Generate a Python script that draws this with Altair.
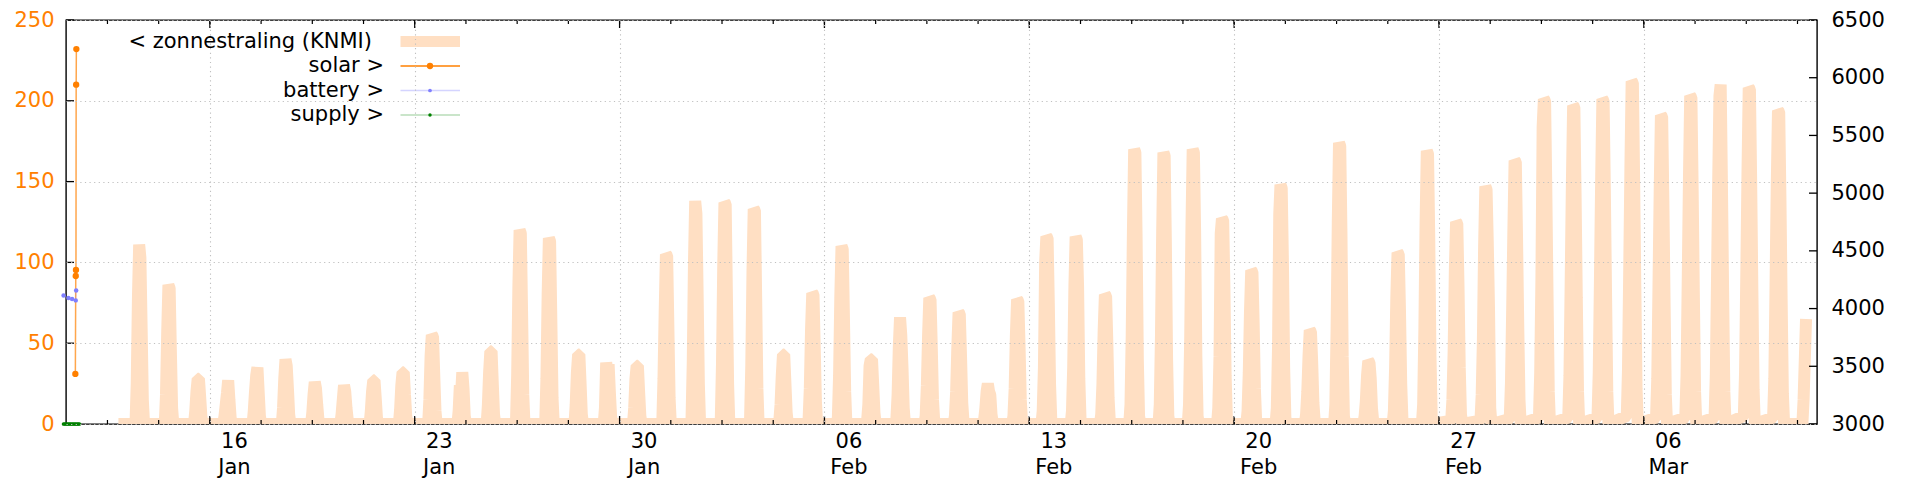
import altair as alt
import pandas as pd

# ---------------- data ----------------
# hourly KNMI global radiation (left axis), one list per day, hours below
rad_start = "2023-01-12T21:00:00"
rad_first_day = "2023-01-13"
rad_hours = [10, 11, 12, 13, 14, 15, 16, 17, 18, 19]
rad_daily = [
    [0, 0, 25, 78, 111, 103, 60, 15, 0, 0],     # Jan 13
    [0, 0, 18, 57, 86, 84, 45, 10, 0, 0],       # Jan 14
    [0, 0, 8, 20, 28, 28, 17, 5, 0, 0],         # Jan 15
    [0, 0, 5, 12, 19, 27, 15, 4, 0, 0],         # Jan 16
    [0, 0, 8, 20, 30, 35, 20, 5, 0, 0],         # Jan 17
    [0, 0, 10, 28, 40, 36, 22, 6, 0, 0],        # Jan 18
    [0, 0, 7, 18, 26, 22, 12, 3, 0, 0],         # Jan 19
    [0, 0, 6, 15, 24, 20, 10, 3, 0, 0],         # Jan 20
    [0, 0, 8, 20, 27, 27, 16, 4, 0, 0],         # Jan 21
    [0, 0, 9, 24, 32, 32, 18, 5, 0, 0],         # Jan 22
    [0, 0, 15, 42, 55, 54, 30, 8, 0, 0],        # Jan 23
    [0, 0, 8, 24, 18, 32, 22, 5, 0, 0],         # Jan 24
    [0, 0, 12, 32, 45, 45, 25, 6, 0, 0],        # Jan 25
    [0, 0, 30, 85, 120, 118, 70, 18, 0, 0],     # Jan 26
    [0, 0, 28, 80, 115, 113, 65, 16, 0, 0],     # Jan 27
    [0, 0, 12, 32, 43, 43, 25, 6, 0, 0],        # Jan 28
    [0, 0, 10, 38, 32, 37, 20, 5, 0, 0],        # Jan 29
    [0, 0, 10, 28, 36, 36, 20, 5, 0, 0],        # Jan 30
    [0, 0, 28, 70, 105, 104, 60, 16, 0, 0],     # Jan 31
    [0, 3, 38, 100, 138, 130, 80, 25, 0, 0],    # Feb 1
    [0, 3, 38, 98, 137, 136, 80, 24, 0, 0],     # Feb 2
    [0, 3, 36, 95, 133, 132, 78, 22, 0, 0],     # Feb 3
    [0, 2, 12, 30, 43, 43, 25, 7, 0, 0],        # Feb 4
    [0, 3, 22, 58, 81, 80, 48, 14, 0, 0],       # Feb 5
    [0, 4, 30, 78, 110, 108, 65, 20, 0, 0],     # Feb 6
    [0, 2, 12, 36, 40, 40, 24, 7, 0, 0],        # Feb 7
    [0, 3, 18, 48, 66, 55, 35, 10, 0, 0],       # Feb 8
    [0, 5, 24, 55, 78, 77, 48, 15, 2, 0],       # Feb 9
    [0, 5, 20, 48, 69, 68, 42, 13, 2, 0],       # Feb 10
    [0, 3, 10, 20, 25, 20, 18, 6, 1, 0],        # Feb 11
    [0, 5, 22, 55, 77, 76, 48, 15, 2, 0],       # Feb 12
    [0, 8, 35, 100, 116, 115, 75, 25, 3, 0],    # Feb 13
    [0, 8, 35, 85, 116, 114, 85, 28, 3, 0],     # Feb 14
    [0, 6, 25, 58, 80, 79, 50, 16, 2, 0],       # Feb 15
    [0, 12, 55, 120, 170, 168, 115, 40, 5, 0],  # Feb 16
    [0, 12, 55, 120, 168, 166, 112, 40, 5, 0],  # Feb 17
    [0, 12, 55, 122, 170, 168, 118, 42, 5, 0],  # Feb 18
    [0, 10, 42, 118, 127, 126, 85, 30, 4, 0],   # Feb 19
    [0, 8, 32, 70, 95, 94, 62, 22, 3, 0],       # Feb 20
    [0, 10, 48, 130, 148, 146, 100, 35, 4, 0],  # Feb 21
    [0, 6, 20, 42, 58, 57, 38, 13, 2, 0],       # Feb 22
    [0, 12, 58, 125, 174, 172, 118, 42, 5, 0],  # Feb 23
    [0, 5, 14, 30, 39, 38, 28, 10, 2, 0],       # Feb 24
    [0, 8, 35, 78, 106, 105, 70, 25, 3, 0],     # Feb 25
    [0, 12, 58, 125, 169, 167, 115, 42, 5, 0],  # Feb 26
    [2, 15, 45, 95, 125, 124, 85, 35, 6, 0],    # Feb 27
    [2, 18, 52, 110, 147, 145, 112, 72, 10, 0], # Feb 28
    [3, 25, 70, 120, 163, 162, 115, 60, 15, 0], # Mar 1
    [4, 32, 90, 184, 201, 200, 145, 80, 20, 0], # Mar 2
    [4, 30, 88, 150, 197, 196, 142, 78, 20, 0], # Mar 3
    [4, 32, 90, 152, 201, 200, 145, 80, 20, 0], # Mar 4
    [5, 34, 95, 160, 212, 211, 152, 85, 22, 0], # Mar 5
    [4, 28, 85, 145, 191, 190, 138, 75, 18, 0], # Mar 6
    [4, 30, 90, 152, 203, 202, 146, 80, 20, 0], # Mar 7
    [4, 30, 90, 152, 203, 210, 150, 82, 20, 0], # Mar 8
    [5, 32, 92, 156, 208, 207, 150, 82, 21, 0], # Mar 9
    [4, 28, 86, 148, 194, 193, 140, 76, 19, 0], # Mar 10
    [0, 15, 40, 65],                            # Mar 11 (data ends)
]

# meter series (right axis)
solar_times = ["2023-01-11T09:40:00", "2023-01-11T10:00:00", "2023-01-11T10:10:00",
               "2023-01-11T10:20:00", "2023-01-11T10:30:00"]
solar_values = [3434, 4282, 4334, 5940, 6248]

battery_times = ["2023-01-11T00:00:00", "2023-01-11T04:00:00", "2023-01-11T07:00:00",
                 "2023-01-11T10:00:00", "2023-01-11T10:20:00"]
battery_values = [4113, 4092, 4082, 4071, 4156]

supply_times = ["2023-01-11T00:00:00", "2023-01-11T01:00:00", "2023-01-11T02:00:00",
                "2023-01-11T03:00:00", "2023-01-11T04:00:00", "2023-01-11T05:00:00",
                "2023-01-11T06:00:00", "2023-01-11T07:00:00", "2023-01-11T08:00:00",
                "2023-01-11T09:00:00", "2023-01-11T10:00:00", "2023-01-11T11:00:00",
                "2023-01-11T12:00:00", "2023-01-11T13:00:00"]
supply_values = [3000] * 14

# axes
week_ticks = ["2023-01-16", "2023-01-23", "2023-01-30", "2023-02-06",
              "2023-02-13", "2023-02-20", "2023-02-27", "2023-03-06"]
left_ticks = [0, 50, 100, 150, 200, 250]
right_ticks = [3000, 3500, 4000, 4500, 5000, 5500, 6000, 6500]
legend_labels = ["< zonnestraling (KNMI)", "solar >", "battery >", "supply >"]

# ---------------- styling ----------------
W, H = 1751, 404
PEACH = "#ffdfc3"
ORANGE = "#ff8000"
PURPLE = "#8080ff"
GREEN = "#008000"
FONT = "DejaVu Sans"
FS = 21
GRID = "#c0c0c0"

# ---------------- frames ----------------
rows = [(rad_start, 0)]
for i, vals in enumerate(rad_daily):
    day = pd.Timestamp(rad_first_day) + pd.Timedelta(days=i)
    for h, v in zip(rad_hours, vals):
        rows.append(((day + pd.Timedelta(hours=h)).strftime("%Y-%m-%dT%H:%M:%S"), v))
rad_df = pd.DataFrame(rows, columns=["t", "v"])

solar_df = pd.DataFrame({"t": solar_times, "v": solar_values})
battery_df = pd.DataFrame({"t": battery_times, "v": battery_values})
supply_df = pd.DataFrame({"t": supply_times, "v": supply_values})

week_df = pd.DataFrame({"t": [w + "T00:00:00" for w in week_ticks]})
minor_df = pd.DataFrame({"t": [d.strftime("%Y-%m-%dT%H:%M:%S") for d in
                               pd.date_range("2023-01-12 12:00", "2023-03-11 22:00", freq="42h")]})
left_tick_df = pd.DataFrame({"v": left_ticks})
right_tick_df = pd.DataFrame({"v": right_ticks})


def dt(s, h=0):
    ts = pd.Timestamp(s)
    return alt.DateTime(year=ts.year, month=ts.month, date=ts.day, hours=h)


x_scale = alt.Scale(domain=[dt("2023-01-11", 2), dt("2023-03-11", 22)])
x_axis = alt.Axis(
    values=[dt(w) for w in week_ticks],
    labelExpr="[timeFormat(datum.value, '%d'), timeFormat(datum.value, '%b')]",
    grid=True, gridColor=GRID, gridDash=[1.2, 3.4], gridWidth=1.1,
    ticks=False, domain=False, labelFontSize=FS, labelLineHeight=26,
    labelPadding=6, labelOffset=24, labelColor="black", labelOverlap=False,
    labelFlush=False, title=None, zindex=1,
)
X = alt.X("t:T", scale=x_scale, axis=x_axis)

left_scale = alt.Scale(domain=[0, 250], nice=False, zero=False)
left_axis = alt.Axis(
    values=left_ticks, orient="left", grid=True, gridColor=GRID, gridDash=[1.2, 3.4],
    gridWidth=1.1, ticks=False, domain=False, labelFontSize=FS, labelColor=ORANGE,
    labelPadding=12, title=None, zindex=1,
)
YL = alt.Y("v:Q", scale=left_scale, axis=left_axis)

right_scale = alt.Scale(domain=[3000, 6500], nice=False, zero=False)
right_axis = alt.Axis(
    values=right_ticks, orient="right", grid=False, ticks=False, domain=False,
    labelFontSize=FS, labelColor="black", labelPadding=14, title=None, format="d",
)
YR = alt.Y("v:Q", scale=right_scale, axis=right_axis)

# ---------------- left group ----------------
rad_line = alt.Chart(rad_df).mark_line(
    color=PEACH, strokeWidth=12, strokeJoin="bevel", strokeCap="butt", clip=True
).encode(x=X, y=YL)

left_tick_rules = alt.Chart(left_tick_df).mark_rule(color="black", strokeWidth=1.3).encode(
    y=YL, x=alt.value(0), x2=alt.value(8))

top_major = alt.Chart(week_df).mark_rule(color="black", strokeWidth=1.3).encode(
    x=X, y=alt.value(0), y2=alt.value(8))
bottom_major = alt.Chart(week_df).mark_rule(color="black", strokeWidth=1.3).encode(
    x=X, y=alt.value(H - 8), y2=alt.value(H))
top_minor = alt.Chart(minor_df).mark_rule(color="black", strokeWidth=1.2).encode(
    x=X, y=alt.value(0), y2=alt.value(4))
bottom_minor = alt.Chart(minor_df).mark_rule(color="black", strokeWidth=1.2).encode(
    x=X, y=alt.value(H - 4), y2=alt.value(H))

left_group = alt.layer(rad_line, left_tick_rules, top_major, bottom_major, top_minor, bottom_minor)

# ---------------- right group ----------------
solar_line = alt.Chart(solar_df).mark_line(color=ORANGE, strokeWidth=1.5, opacity=0.7).encode(x=X, y=YR)
solar_pts = alt.Chart(solar_df).mark_point(filled=True, color=ORANGE, size=40, opacity=1).encode(x=X, y=YR)
battery_line = alt.Chart(battery_df).mark_line(color=PURPLE, strokeWidth=1, opacity=0.25).encode(x=X, y=YR)
battery_pts = alt.Chart(battery_df).mark_point(filled=True, color=PURPLE, size=20, opacity=1).encode(x=X, y=YR)
supply_line = alt.Chart(supply_df).mark_line(color=GREEN, strokeWidth=1, opacity=0.3).encode(x=X, y=YR)
supply_pts = alt.Chart(supply_df).mark_point(filled=True, color=GREEN, size=14, opacity=1).encode(x=X, y=YR)
right_tick_rules = alt.Chart(right_tick_df).mark_rule(color="black", strokeWidth=1.3).encode(
    y=YR, x=alt.value(W - 8), x2=alt.value(W))

right_group = alt.layer(solar_line, solar_pts, battery_line, battery_pts,
                        supply_line, supply_pts, right_tick_rules)

# ---------------- key (gnuplot style, top left) ----------------
key_y = [21.5, 46, 70.5, 95]
key_text_x = [306, 318, 318, 318]
key_layers = []
for i, lab in enumerate(legend_labels):
    key_layers.append(
        alt.Chart(pd.DataFrame({"label": [lab]})).mark_text(
            align="right", baseline="middle", fontSize=FS, font=FONT, color="black"
        ).encode(text="label:N", x=alt.value(key_text_x[i]), y=alt.value(key_y[i]))
    )
one = pd.DataFrame({"k": [0]})
key_layers += [
    alt.Chart(one).mark_rule(color=PEACH, strokeWidth=11).encode(
        x=alt.value(334.5), x2=alt.value(394), y=alt.value(key_y[0])),
    alt.Chart(one).mark_rule(color=ORANGE, strokeWidth=1.5).encode(
        x=alt.value(334.5), x2=alt.value(394), y=alt.value(key_y[1])),
    alt.Chart(one).mark_point(filled=True, color=ORANGE, size=40, opacity=1).encode(
        x=alt.value(364), y=alt.value(key_y[1])),
    alt.Chart(one).mark_rule(color="#d4d4ff", strokeWidth=1.3).encode(
        x=alt.value(334.5), x2=alt.value(394), y=alt.value(key_y[2])),
    alt.Chart(one).mark_point(filled=True, color=PURPLE, size=14, opacity=1).encode(
        x=alt.value(364), y=alt.value(key_y[2])),
    alt.Chart(one).mark_rule(color="#b8dcb8", strokeWidth=1.3).encode(
        x=alt.value(334.5), x2=alt.value(394), y=alt.value(key_y[3])),
    alt.Chart(one).mark_point(filled=True, color=GREEN, size=12, opacity=1).encode(
        x=alt.value(364), y=alt.value(key_y[3])),
]

chart = alt.layer(left_group, right_group, *key_layers).resolve_scale(
    y="independent"
).properties(
    width=W, height=H,
    padding={"left": 58, "top": 12, "right": 95, "bottom": 56},
    autosize=alt.AutoSizeParams(type="none"),
).configure(font=FONT).configure_view(stroke="black", strokeWidth=1.4)

chart.save("out.html", embed_options={"renderer": "svg", "actions": False})
